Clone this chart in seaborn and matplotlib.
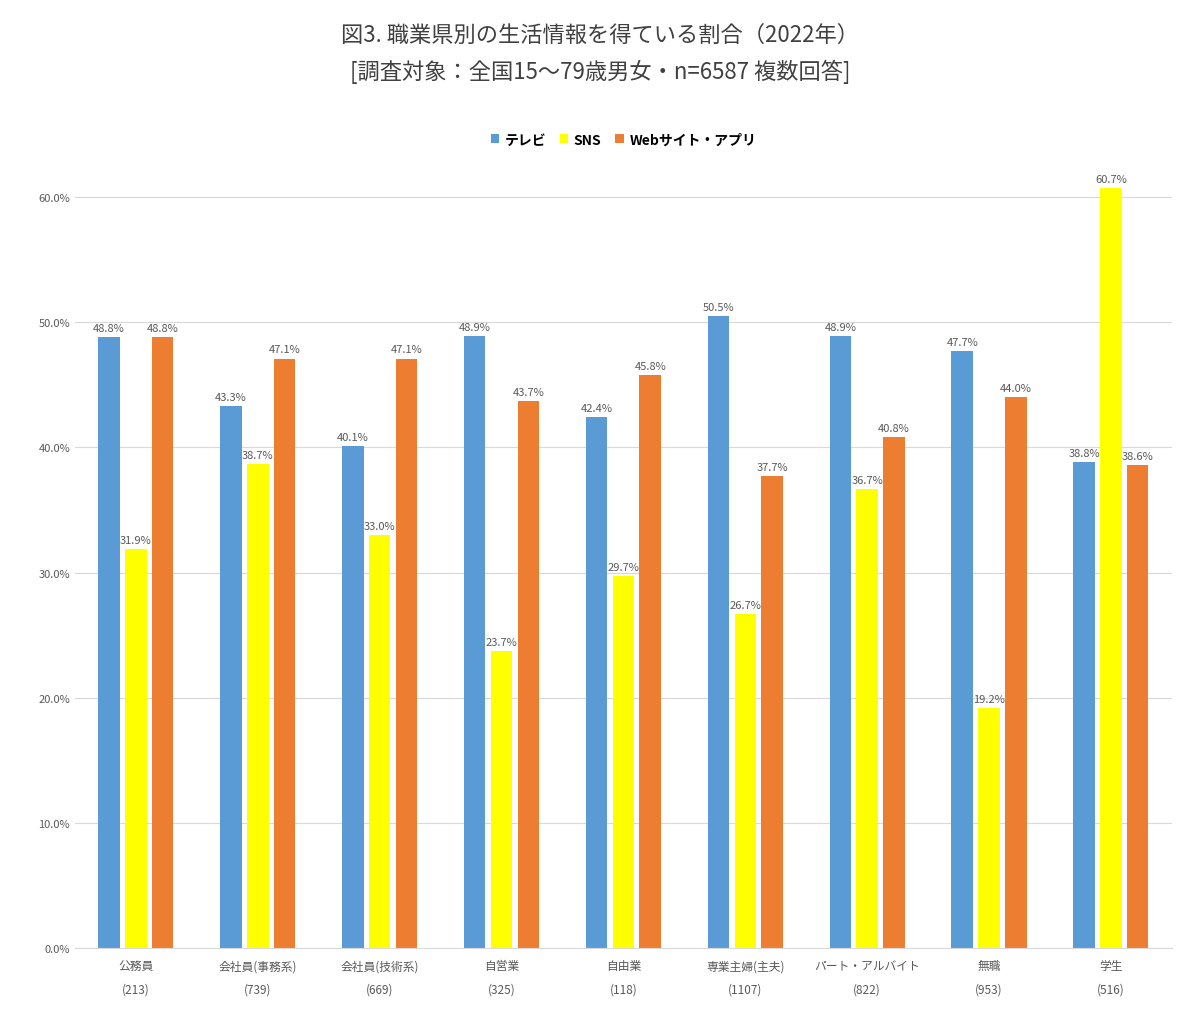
import matplotlib
matplotlib.use("Agg")
import matplotlib.pyplot as plt
import seaborn as sns
import pandas as pd

plt.rcParams["font.family"] = ["Noto Sans CJK JP", "DejaVu Sans"]

CATEGORIES = ["公務員", "会社員(事務系)", "会社員(技術系)", "自営業", "自由業",
              "専業主婦(主夫)", "パート・アルバイト", "無職", "学生"]
COUNTS = ["213", "739", "669", "325", "118", "1107", "822", "953", "516"]
SERIES = ["テレビ", "SNS", "Webサイト・アプリ"]
TV = [48.8, 43.3, 40.1, 48.9, 42.4, 50.5, 48.9, 47.7, 38.8]
SNS = [31.9, 38.7, 33.0, 23.7, 29.7, 26.7, 36.7, 19.2, 60.7]
WEB = [48.8, 47.1, 47.1, 43.7, 45.8, 37.7, 40.8, 44.0, 38.6]
COLORS = ["#5B9BD5", "#FFFF00", "#ED7D31"]

labels = [f"{c}\n({n})" for c, n in zip(CATEGORIES, COUNTS)]
rows = []
for s, vals in zip(SERIES, [TV, SNS, WEB]):
    for lab, v in zip(labels, vals):
        rows.append({"cat": lab, "series": s, "value": v})
df = pd.DataFrame(rows)

fig = plt.figure(figsize=(12, 10.2), dpi=100)
ax = fig.add_axes([0.0625, 0.0696, 0.914, 0.773])
sns.barplot(data=df, x="cat", y="value", hue="series", palette=COLORS,
            width=0.66, gap=0.2, saturation=1, ax=ax, legend=True)

for cont in ax.containers:
    ax.bar_label(cont, fmt="%.1f%%", fontsize=8, color="#595959", padding=3)

ax.set_ylim(0, 63)
ax.set_yticks(range(0, 61, 10))
ax.set_yticklabels([f"{t:.1f}%" for t in range(0, 61, 10)], fontsize=8, color="#595959")
ax.tick_params(axis="x", labelsize=8.5, colors="#595959", length=0, pad=8)
for t in ax.get_xticklabels():
    t.set_linespacing(2.0)
ax.tick_params(axis="y", length=0)
ax.set_xlabel("")
ax.set_ylabel("")
ax.grid(axis="y", color="#D9D9D9", linewidth=0.8)
ax.set_axisbelow(True)
for sp in ["top", "right", "left"]:
    ax.spines[sp].set_visible(False)
ax.spines["bottom"].set_color("#D9D9D9")

ax.legend(loc="upper center", bbox_to_anchor=(0.5, 1.05), ncol=3, frameon=False,
          handlelength=0.6, handleheight=0.6, columnspacing=1.0, handletextpad=0.4,
          prop={"size": 10, "weight": "bold"})

fig.text(0.5, 0.965, "図3. 職業県別の生活情報を得ている割合（2022年）",
         ha="center", va="center", fontsize=16, color="#404040")
fig.text(0.5, 0.93, "[調査対象：全国15～79歳男女・n=6587 複数回答]",
         ha="center", va="center", fontsize=16, color="#404040")

fig.savefig("out.png", dpi=100)
